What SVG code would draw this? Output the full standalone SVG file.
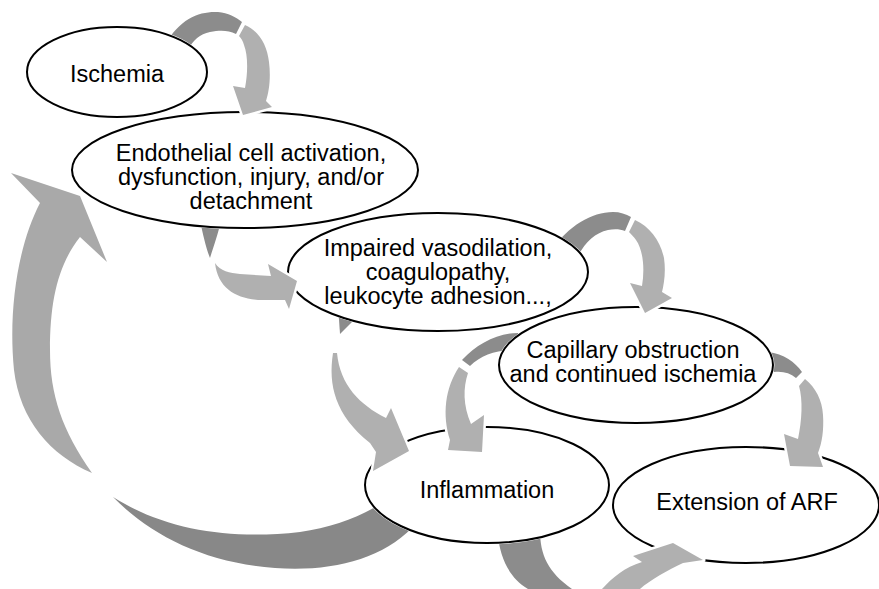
<svg xmlns="http://www.w3.org/2000/svg" width="879" height="589" viewBox="0 0 879 589">
<style>
.node{fill:#fff;stroke:#000;stroke-width:2}
.lbl{font-family:"Liberation Sans",Arial,Helvetica,sans-serif;font-size:23.5px;fill:#000;text-anchor:middle}
.dk{fill:#8c8c8c}
.lt{fill:#b0b0b0;stroke:#fff;stroke-width:5;stroke-linejoin:round;paint-order:stroke}
.bigl{fill:#a9a9a9;stroke:#fff;stroke-width:5;stroke-linejoin:round;paint-order:stroke}
.bigd{fill:#888}
</style>
<defs>
<mask id="mIsch" maskUnits="userSpaceOnUse" x="0" y="0" width="879" height="589"><rect width="879" height="589" fill="#fff"/><ellipse cx="117" cy="72" rx="91.5" ry="46.5" fill="#000"/></mask>
<mask id="mEndo" maskUnits="userSpaceOnUse" x="0" y="0" width="879" height="589"><rect width="879" height="589" fill="#fff"/><ellipse cx="245" cy="170" rx="174.5" ry="59.5" fill="#000"/></mask>
<mask id="mImp" maskUnits="userSpaceOnUse" x="0" y="0" width="879" height="589"><rect width="879" height="589" fill="#fff"/><ellipse cx="438" cy="272" rx="151.5" ry="60.5" fill="#000"/></mask>
<mask id="mCap" maskUnits="userSpaceOnUse" x="0" y="0" width="879" height="589"><rect width="879" height="589" fill="#fff"/><ellipse cx="636" cy="365" rx="138.5" ry="59.5" fill="#000"/></mask>
<mask id="mInf" maskUnits="userSpaceOnUse" x="0" y="0" width="879" height="589"><rect width="879" height="589" fill="#fff"/><ellipse cx="487" cy="485" rx="123.5" ry="59.5" fill="#000"/></mask>
</defs>
<rect width="879" height="589" fill="#fff"/>
<g id="nodes">
<g id="ischemia"><ellipse class="node" cx="117" cy="72" rx="90" ry="45"/><text class="lbl" x="117" y="82">Ischemia</text></g>
<g id="endothelial"><ellipse class="node" cx="245" cy="170" rx="173" ry="58"/><text class="lbl" x="251" y="161">Endothelial cell activation,</text><text class="lbl" x="251" y="185">dysfunction, injury, and/or</text><text class="lbl" x="251" y="209">detachment</text></g>
<g id="impaired"><ellipse class="node" cx="438" cy="272" rx="150" ry="59"/><text class="lbl" x="438" y="256">Impaired vasodilation,</text><text class="lbl" x="438" y="280">coagulopathy,</text><text class="lbl" x="438" y="304">leukocyte adhesion...,</text></g>
<g id="capillary"><ellipse class="node" cx="636" cy="365" rx="137" ry="58"/><text class="lbl" x="633" y="358">Capillary obstruction</text><text class="lbl" x="633" y="382">and continued ischemia</text></g>
<g id="inflammation"><ellipse class="node" cx="487" cy="485" rx="122" ry="58"/><text class="lbl" x="487" y="498">Inflammation</text></g>
<g id="extension"><ellipse class="node" cx="746" cy="505" rx="133" ry="58"/><text class="lbl" x="747" y="510">Extension of ARF</text></g>
</g>
<g id="connectors">
<g id="a1"><path class="dk" mask="url(#mIsch)" d="M165,45 C180,18 200,11 218,12 C228,13 236,17 242,22 L236,34 C228,30 220,30 210,32 C200,34 193,40 188,50 Z"/><path class="lt" d="M245,25 C259,31 267,45 269,62 C271,78 269,92 266,101 L272,107 L243,115 L233,86 L245,88 C248,72 248,55 244,45 C243,41 241,38 239,36 Z"/></g>
<g id="a2"><path class="dk" mask="url(#mEndo)" d="M200,220 L221,220 C218,235 213,248 210,258 C206,248 203,235 200,220 Z"/><path class="lt" d="M215,263 C220,271 230,273 240,274 L271,276 L268,264 L297,281 L289,309 L285,300 L258,300 C235,298 218,288 215,263 Z"/></g>
<g id="a3"><path class="dk" mask="url(#mImp)" d="M552,250 C568,226 592,212 613,212 C620,212 626,214 631,217 L625,231 C620,229 614,229 608,230 C595,233 585,242 577,258 Z"/><path class="lt" d="M635,220 C650,227 660,240 664,258 C666,272 664,284 662,292 L672,298 L645,313 L630,283 L642,286 C645,268 643,250 636,240 C634,237 631,234 629,232 Z"/></g>
<g id="a4"><path class="dk" mask="url(#mImp)" d="M338,305 L356,305 L352,322 L340,334 Z"/><path class="lt" d="M333,353 C328,385 335,415 370,443 L376,452 L373,471 L409,451 L391,408 L386,418 C360,405 340,385 337,353 Z"/></g>
<g id="a5"><path class="dk" mask="url(#mCap)" d="M518,333 C497,333 477,344 462,360 L470,366 C482,354 500,349 520,350 Z"/><path class="lt" d="M459,367 C445,388 442,415 450,440 L448,450 L482,452 L484,415 L471,424 C463,405 463,388 468,373 Z"/></g>
<g id="a6"><path class="dk" mask="url(#mCap)" d="M768,352 C784,354 795,362 802,372 L796,378 C790,373 783,371 774,372 Z"/><path class="lt" d="M805,379 C816,388 822,400 823,415 C824,430 822,443 818,453 L823,467 L790,466 L784,434 L798,439 C802,420 803,400 799,386 Z"/></g>
<g id="a7"><path class="dk" mask="url(#mInf)" d="M497,530 L540,530 C540,555 548,572 572,589 L528,589 C510,578 500,560 497,530 Z"/><path class="lt" d="M602,589 C612,578 625,567 642,562 L633,556 L673,543 L703,560 L683,563 C668,570 650,580 640,589 Z"/></g>
<g id="a8"><path class="bigd" mask="url(#mInf)" d="M113,497 C165,530 230,540 300,532 C335,527 365,515 390,498 L412,528 C380,560 330,572 275,568 C205,563 150,535 113,497 Z"/><path class="bigl" d="M40,203 C18,245 8,310 14,370 C20,420 50,455 92,473 C62,430 50,395 50,350 C50,300 58,265 80,237 L107,262 L80,196 L11,173 Z"/></g>
</g>
</svg>
